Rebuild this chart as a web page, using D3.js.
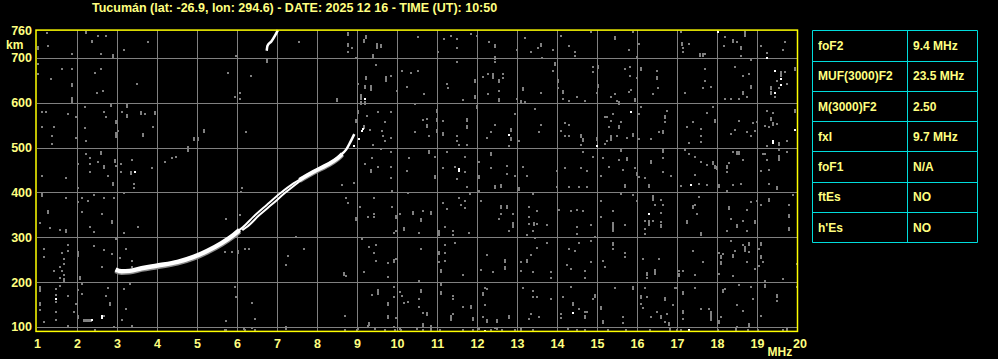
<!DOCTYPE html>
<html><head><meta charset="utf-8">
<script src="https://cdn.jsdelivr.net/npm/d3@7"></script>
<style>
html,body{margin:0;padding:0;background:#000;}
svg{display:block;}
text{font-family:"Liberation Sans",Arial,sans-serif;font-weight:bold;fill:#ffff80;}
</style></head>
<body>
<svg id="chart" width="998" height="359"></svg>
<script>
// ---------------- DATA ----------------
const titleText = "Tucumán (lat: -26.9, lon: 294.6) - DATE: 2025 12 16 - TIME (UT): 10:50";
const freqTicks = d3.range(1, 21);
const heightTicks = [100, 200, 300, 400, 500, 600, 700, 760];
const gridFreqs = d3.range(2, 20);
const gridHeights = [100, 200, 300, 400, 500, 600, 700];
const paramNames = ["foF2", "MUF(3000)F2", "M(3000)F2", "fxI", "foF1", "ftEs", "h'Es"];
const paramValues = ["9.4 MHz", "23.5 MHz", "2.50", "9.7 MHz", "N/A", "NO", "NO"];

// F-layer trace [MHz, km]
const traceLow = [[2.95,228],[3.1,224],[3.3,225],[3.6,231],[4.0,237],[4.5,245],[4.9,256],[5.25,270],[5.6,287],[5.9,305],[6.05,316]];
const traceBranchA = [[6.0,313],[6.13,322],[6.40,346],[6.73,372],[7.07,398],[7.40,420],[7.6,431]];
const traceBranchB = [[6.12,316],[6.25,324],[6.54,349],[6.87,374],[7.19,399],[7.50,421],[7.65,432]];
const traceHigh = [[7.55,428],[7.9,446],[8.23,461],[8.5,476],[8.62,486]];
const traceTip = [[8.6,485],[8.72,496],[8.82,512],[8.92,530]];
const traceSecondHop = [[6.73,716],[6.75,727],[6.85,737],[6.94,750],[7.01,762]];

// background echoes [MHz, km, extent km]
const noiseEchoes = [
[1.03,723,9],[1.26,756],[1.28,727],[1.88,710],[2.22,756,6],[2.38,738,6],[2.53,749],[2.73,749],[2.59,708],[2.90,704,9],[3.18,718],[3.78,736],[1.03,686],[1.03,665],[1.34,654],[1.63,676],[1.88,676],[1.88,639,9],[1.88,606,13],[2.44,667],[2.59,676],[2.49,623],[2.64,627],[3.49,641],[5.78,667],[5.98,705],[6.34,659],[5.95,614],[6.08,622],[6.08,609],[6.74,693,9],[7.55,736],[8.49,607,9],[8.78,754,9],[8.78,729,9],[8.88,723],[8.78,714],[8.98,701],[9.23,747,9],[9.18,738,9],[9.51,727,13],[9.59,727,9],[9.40,705,9],[9.48,685],[9.23,656,9],[9.73,654,13],[9.84,659],[9.03,641],[9.20,634,9],[9.34,632,13],[9.99,627],[9.09,614,13],[9.09,599,9],[9.19,599,9],[10.13,671],[10.24,636],[10.34,666],[10.45,597],[1.13,579],[1.23,579],[1.78,574],[1.98,569],[2.20,591],[2.68,579],[2.73,569],[2.84,594,9],[3.13,579],[3.24,593,9],[3.24,571,9],[3.59,577,9],[3.69,574],[3.94,577,9],[1.13,547],[1.43,547],[1.38,525],[1.38,509],[1.98,521],[2.20,543],[2.23,516],[2.98,557,9],[2.98,529,13],[3.03,538],[3.64,527,9],[3.89,547],[4.93,519,9],[5.03,519,9],[5.18,537,9],[6.23,534],[4.78,497,13],[4.48,480],[4.38,477],[4.19,468],[2.23,485],[2.33,476],[2.59,488,9],[2.03,463],[2.33,463],[2.53,468],[2.68,457,9],[2.94,470,9],[2.98,459],[3.09,464],[3.38,472],[3.88,455],[1.13,437],[1.73,432],[2.33,445],[2.78,437],[3.09,446],[3.34,443,9],[9.03,579,9],[8.98,560,9],[9.24,570],[9.17,545,9],[9.33,540],[9.53,579],[9.69,557],[9.84,579],[9.63,538],[9.65,525],[9.84,521],[9.69,516],[9.40,507],[9.59,497],[9.38,477],[9.20,463],[9.53,458],[9.34,448,9],[9.84,490],[9.84,458],[9.84,432],[10.24,449],[10.30,477],[10.45,534],
[10.53,747],[10.53,671],[10.68,619],[11.03,713],[11.18,742],[11.34,750],[11.49,742],[11.49,723],[11.84,754],[11.99,750],[11.49,690],[11.24,642],[11.28,632],[11.64,606],[11.95,649,9],[11.95,612,9],[11.99,590,9],[12.29,736],[12.44,727,9],[12.44,699,9],[12.44,690],[12.14,658],[12.28,664],[12.39,659,13],[12.54,648,9],[12.64,664],[12.64,656],[12.54,627],[12.54,605,9],[12.28,619],[12.99,718],[13.20,745],[13.35,713],[13.53,723],[13.59,729,9],[13.62,701],[13.89,718],[13.14,631,9],[12.99,609],[13.09,601,9],[13.20,601],[13.59,623],[13.94,686,9],[13.89,671],[14.09,750],[14.29,727],[14.44,713],[14.44,705],[14.84,758],[14.03,649,9],[14.03,634],[14.14,625,9],[14.16,608],[14.29,605],[14.49,614],[14.69,605],[14.89,681],[14.89,668],[15.03,679,9],[15.03,638,9],[14.99,623],[15.44,745,9],[15.79,718],[15.89,758],[16.04,732],[15.99,702],[15.34,614],[15.44,619],[15.49,605],[15.54,599,9],[15.69,676],[15.83,680],[15.83,659],[15.79,624],[15.84,628],[15.94,606,9],[15.99,656],[16.09,675,9],[16.49,671],[16.49,656,9],[16.53,633],[16.39,619],[17.09,758],[17.12,732,9],[17.16,723],[17.29,732],[17.16,714],[17.58,707,9],[17.64,707,9],[17.69,708],[17.69,676],[17.69,649],[17.64,633],[17.84,636],[17.19,623],[18.20,747],[18.39,738,9],[18.49,736],[18.59,723,9],[18.59,705],[18.18,727],[18.69,754,13],[18.44,680],[18.64,659],[18.79,664],[18.84,634,9],[18.64,621,9],[18.74,614],[18.54,608],[18.34,608],[18.19,608],[19.24,712],[19.09,727],[19.69,736],[19.64,718],[18.84,695],[19.59,664,13],[19.69,668],[19.49,649],[19.34,633,9],[19.44,612],[19.34,621,9],[19.54,633],[19.74,642],[19.94,675,9],
[10.66,562],[10.74,565],[10.74,549,9],[10.99,582,9],[10.99,562,9],[11.14,560],[11.14,531,9],[10.99,538,9],[10.79,525],[11.49,525],[11.49,516],[11.54,507],[11.74,562,9],[11.74,546,9],[11.74,505],[12.24,521],[12.34,534],[12.44,551],[12.84,540,9],[12.84,520,9],[12.79,503],[12.94,574],[13.04,516],[13.54,534],[13.59,551],[13.44,587],[14.09,538],[14.19,556],[14.29,551],[14.19,525],[14.29,525],[14.59,525,9],[14.64,516,9],[14.59,505],[14.99,520,9],[15.19,569],[15.24,569],[15.39,575],[15.34,559],[15.29,546],[15.54,546,9],[15.49,527],[15.34,522,13],[15.19,509],[15.24,516],[15.59,557],[15.89,527,9],[15.74,522],[16.04,520],[16.09,591],[16.04,574],[16.34,520],[16.54,534],[16.64,534,9],[16.69,569,9],[16.69,557],[16.74,582],[17.39,557],[17.59,542],[17.59,525],[17.59,512],[17.24,546],[17.29,510],[17.94,560,9],[17.89,590],[17.74,577],[18.34,531],[18.44,540],[18.54,560],[18.74,534],[18.84,525],[18.89,554],[18.99,557],[18.94,538],[19.24,582],[19.39,577],[19.34,564,9],[19.39,553,9],[19.19,549],[19.29,546],[19.49,553],[19.94,582,9],[19.54,509,9],[19.24,503],[19.74,516],
[10.81,490,9],[10.94,480],[11.24,490],[11.14,455],[10.94,435,9],[11.44,458],[11.69,480],[11.69,446],[11.49,431],[12.04,468],[12.04,435,9],[12.34,486,9],[12.34,455],[12.74,460],[12.74,442],[12.94,436],[13.14,458],[13.24,436],[13.99,449],[14.19,455],[14.59,455],[14.64,490],[14.74,449],[14.89,480],[15.14,477],[15.09,436],[15.29,458],[15.59,494,9],[15.54,472],[15.74,475,9],[15.64,451],[15.94,455],[15.99,442,9],[16.04,435],[16.19,433],[16.34,468,9],[16.64,492,9],[16.64,477],[16.64,446],[16.84,436],[17.19,494],[17.29,485],[17.44,480],[17.44,440],[17.59,468],[17.74,462],[17.89,466,9],[17.94,457,9],[17.99,455,9],[18.24,457,9],[18.29,466],[18.24,446],[18.39,490],[18.49,488,9],[18.54,488,9],[18.64,472],[19.14,486],[19.19,486],[19.24,472],[19.09,449],[19.29,451],[19.54,477,13],[19.54,495],[19.74,490],
[1.13,394,9],[2.03,409],[2.90,419,9],[3.43,419],[3.43,409],[3.18,398],[1.73,387],[2.13,387],[2.28,382],[2.43,395],[2.68,387],[2.93,387],[2.03,378],[2.13,357],[2.63,351],[2.88,335,9],[1.28,357,9],[1.08,333],[1.33,320],[1.58,316],[1.73,314,9],[2.33,324],[2.43,311],[3.18,310],[3.53,324],[1.18,275],[1.18,256],[1.63,266],[1.78,284],[1.78,270],[2.03,262,13],[1.68,251],[1.68,240],[1.58,234],[1.63,225],[1.43,224],[1.68,216],[1.58,210],[1.68,205,9],[2.08,210,9],[2.43,280],[2.68,271],[2.63,234],[2.88,262],[2.98,296],[3.23,274],[1.08,185,13],[1.08,151,9],[1.08,137],[1.18,111],[1.48,185],[1.58,192],[1.48,172],[1.48,155],[1.48,133],[1.48,116],[1.78,170],[2.03,182],[1.98,151],[1.93,133],[2.13,196],[2.13,174],[2.03,122,9],[1.78,103],[2.78,187],[2.83,151,9],[2.73,170],[2.68,125],[3.18,185],[3.23,140],[3.13,116],[3.33,196],[3.38,103],[2.93,100],[3.08,255],[3.38,247],[3.38,234],[5.72,340],[6.08,350],[6.13,410],[6.10,401],[5.70,268],[5.88,268],[6.03,268,9],[6.20,273],[6.30,273],[5.95,190],[5.98,168],[6.38,153],[6.45,117],[5.73,113],[5.70,94],[6.18,96],[6.38,98],[7.48,301],[7.68,273],[7.28,259],[7.23,239],[7.23,100],[8.63,416],[8.93,421],[8.73,387],[8.78,377],[9.08,367],[8.98,340,9],[9.28,345],[9.43,353],[9.43,345],[9.88,367],[9.43,387],[9.88,403],[9.98,344,9],[9.93,310],[9.98,314],[10.18,318,9],[10.28,399],[10.40,355,9],[10.08,351],[9.13,296],[9.30,279],[9.48,283],[9.43,266],[9.48,247],[9.78,242],[9.93,246,9],[9.98,251],[9.78,212],[9.18,222],[8.68,219,9],[8.73,214],[9.53,177,13],[9.38,172],[9.78,151,9],[10.08,177],[10.13,170],[10.28,155],[10.18,153],[9.93,190],[9.93,166],[9.78,122,9],[9.98,120],[8.70,125],[9.30,107,9],[9.03,96],[10.08,96],[9.45,96],[9.93,100],
[10.64,358],[10.84,353,9],[10.61,338,9],[10.54,310],[11.04,310,13],[11.19,323],[11.14,377],[11.24,364],[11.39,314],[11.39,305],[11.54,387],[11.59,373],[11.69,382],[11.69,366],[11.79,310],[11.83,397],[12.09,382],[12.46,414],[12.59,414,9],[12.44,409],[11.74,412],[12.04,403],[12.59,367,9],[12.74,367,9],[12.59,351],[12.89,351],[12.89,327,13],[12.54,342],[12.79,314],[13.04,407,9],[13.39,397],[13.29,367],[13.29,345],[13.29,329],[13.43,329,9],[13.49,358],[13.49,330],[13.74,327],[13.39,314],[13.24,305],[13.44,298],[14.34,358],[14.49,362],[14.64,358],[14.49,323],[14.84,327],[14.49,307],[14.94,301],[14.06,362],[13.99,412],[14.31,412],[14.54,412],[14.74,412],[15.09,381],[15.09,345],[15.39,358],[15.39,323,22],[15.69,327],[15.59,397],[15.69,415,9],[15.89,394],[15.99,381],[16.29,414,9],[16.39,387,13],[16.44,372],[16.59,384],[16.64,372],[16.19,336],[16.29,333,13],[16.39,336],[16.59,355],[16.59,335],[16.59,325,9],[16.19,318],[16.19,307],[17.09,414],[17.54,418],[17.74,416],[18.04,414,9],[18.24,404],[18.39,416],[18.59,419],[19.29,419],[19.49,410,9],[19.29,384,9],[18.99,381],[19.09,372],[17.54,389],[17.39,367,9],[17.44,372],[17.49,351],[17.24,335,9],[17.59,308,9],[18.29,366,9],[18.34,342],[18.24,314],[18.49,325,9],[18.64,336],[18.74,360],[18.74,314],[18.94,335,9],[18.84,379],[19.79,347,9],[19.79,318,9],[19.89,394],[19.79,372],
[10.59,273],[11.04,264,9],[11.19,284],[11.19,266],[11.04,244],[11.19,247],[11.09,224,9],[11.44,288],[11.64,216],[12.09,227],[12.24,261],[12.39,222],[12.69,247,9],[12.69,231,9],[10.54,203],[13.09,244],[13.09,225],[13.24,246,9],[13.34,261],[13.39,222],[13.49,276],[13.74,288],[13.84,222],[13.84,209],[14.29,273],[14.44,270],[14.54,288],[14.24,239],[14.34,229],[14.69,225],[14.69,209],[14.84,292],[14.84,244],[15.14,247],[15.19,234],[15.39,286,9],[15.39,274],[15.69,266],[15.69,256],[16.14,251],[16.54,251],[16.24,218,9],[16.44,222,13],[16.24,209],[17.04,225],[17.04,216,9],[17.14,225],[17.39,270],[17.44,216],[17.64,244],[18.04,266],[18.09,255,9],[18.14,262],[18.09,242,9],[18.39,259,9],[18.44,270],[18.34,292],[18.64,284],[18.69,273,13],[18.74,244],[18.79,268],[18.79,286,9],[18.94,229],[19.04,236],[19.04,273],[19.09,286,9],[19.09,255,9],[19.14,244],[19.64,207],[19.99,240],[18.39,214],[18.04,218],
[10.59,181,9],[10.54,162],[10.54,144],[10.64,131],[10.74,128,9],[10.64,105,9],[10.84,100,9],[11.09,196,9],[11.09,175,9],[11.39,170],[11.39,162],[11.64,144],[11.34,120,13],[11.39,129],[11.84,144,9],[11.89,118,9],[12.04,96],[12.14,174,9],[12.19,188],[12.24,185],[12.19,148],[12.14,122],[12.24,114,9],[12.49,114,9],[12.44,98],[12.79,123,9],[13.14,187],[13.39,181],[13.39,168],[13.49,168],[13.34,129],[13.29,118],[13.54,122],[13.84,162],[14.14,168],[14.34,190],[14.39,150,9],[14.54,140],[14.09,129],[14.09,120],[14.69,133],[14.69,122,9],[14.74,133],[14.94,170,9],[14.89,162],[15.09,142,9],[15.14,111,9],[15.44,188],[15.64,122],[15.64,108],[15.89,187,9],[16.09,166,9],[16.09,151],[16.14,142],[16.24,168],[16.19,187],[16.34,122],[16.49,134],[16.59,122,9],[16.69,162,9],[16.69,111],[16.74,128],[16.79,107,9],[16.89,150],[16.94,187],[16.99,187],[17.14,175,9],[17.14,133,9],[17.14,118],[17.44,187],[17.59,140],[17.79,140],[17.84,125,22],[18.09,122],[18.04,111,9],[18.14,179,9],[18.19,185],[18.49,148],[18.54,194],[18.64,135],[18.79,105,9],[18.49,101],[18.84,190],[18.89,162],[19.09,125],[19.19,192,9],[19.19,203],[19.49,170,9],[19.49,157],[19.99,190],
[2.44,93],[5.72,93],[6.19,94],[6.44,93],[7.23,95],[8.69,93],[9.0,94],[9.27,103],[9.69,94],[9.94,93],[10.11,94],[10.49,95],[10.64,93],[10.86,95,9],[11.07,94],[11.65,94],[11.9,93],[12.36,94],[12.49,96],[12.63,93],[12.94,93],[13.09,94,9],[13.39,93],[14.28,95],[14.50,93],[14.69,93],[15.28,93],[15.73,93],[16.32,93],[16.82,94,9],[16.99,94],[17.11,94],[18.02,93],[18.48,94,9],[18.78,93],[19.02,94],[19.64,93],[19.74,94,9]
];
const brightEchoes = [[9.19,609],[3.44,445],[9.13,538],[18.03,758],[19.24,701],[19.44,671],[19.59,654],[19.59,640],[19.44,623],[12.79,529],[14.99,503],[15.84,580],[19.94,540],[19.39,512,9],[11.54,449,9],[16.29,351],[17.34,416],[14.39,131],[17.29,94],[12.19,91],[2.63,121,9],[2.38,116],[1.47,162],[9.16,541],[9.05,519],[8.92,503]];
const smearEchoes = [[2.14, 2.37, 116]]; // [fStart, fEnd, km]

// ---------------- DRAW ----------------
const svg = d3.select("#chart");
svg.append("rect").attr("width", 998).attr("height", 359).attr("fill", "#000");

const x = d3.scaleLinear().domain([1, 20]).range([37, 797]);
const y = d3.scaleLinear().domain([90, 762]).range([331.4, 30.1]);
const kmPx = Math.abs(y(100) - y(0));

// title
svg.append("text").attr("x", 92).attr("y", 11.5).attr("font-size", 12.5)
  .text(titleText);

// grid
const grid = svg.append("g").attr("stroke", "#808080").attr("stroke-width", 1);
grid.selectAll("line.v").data(gridFreqs).join("line").attr("class", "v")
  .attr("x1", d => Math.round(x(d)) + 0.5).attr("x2", d => Math.round(x(d)) + 0.5)
  .attr("y1", y(762)).attr("y2", y(90));
grid.selectAll("line.h").data(gridHeights).join("line").attr("class", "h")
  .attr("y1", d => Math.round(y(d)) + 0.5).attr("y2", d => Math.round(y(d)) + 0.5)
  .attr("x1", x(1)).attr("x2", x(20));

// echoes
function drawEchoes(data, color) {
  svg.append("g").attr("fill", color).selectAll("rect").data(data).join("rect")
    .attr("x", d => Math.round(x(d[0])) - 1)
    .attr("y", d => Math.round(y(d[1] + (d[2] || 4) / 2)))
    .attr("width", 2)
    .attr("height", d => Math.max(2, Math.round((d[2] || 4) * kmPx / 100)));
}
drawEchoes(noiseEchoes, "#808080");
svg.append("g").attr("fill", "#808080").selectAll("rect").data(smearEchoes).join("rect")
  .attr("x", d => Math.round(x(d[0]))).attr("width", d => Math.round(x(d[1]) - x(d[0])))
  .attr("y", d => Math.round(y(d[2])) - 1).attr("height", 3);
drawEchoes(brightEchoes, "#ffffff");

// traces
const line = d3.line().x(d => x(d[0])).y(d => y(d[1])).curve(d3.curveMonotoneX);
function trace(data, w, color, dy) {
  svg.append("path").datum(data).attr("d", line).attr("fill", "none")
    .attr("transform", `translate(0.5,${dy || 0})`)
    .attr("stroke", color || "#fff").attr("stroke-width", w).attr("stroke-linecap", "butt");
}
trace(traceLow, 5, "#8c8c8c", 1.2);
trace(traceHigh, 4.5, "#8c8c8c", 1);
trace(traceLow, 4.5);
trace(traceBranchA, 2);
trace(traceBranchB, 2);
trace(traceHigh, 4);
trace(traceTip, 2.5);
trace(traceSecondHop, 2.5);

// frame
svg.append("rect").attr("x", x(1) - 1).attr("y", y(762)).attr("width", x(20) - x(1) + 1.5)
  .attr("height", y(90) - y(762)).attr("fill", "none").attr("stroke", "#ffff00").attr("stroke-width", 1.5);

// axes labels
const xAxis = d3.axisBottom(x).tickValues(freqTicks).tickSize(0).tickPadding(8).tickFormat(d3.format("d"));
const gx = svg.append("g").attr("transform", `translate(0,${y(90)})`).call(xAxis);
gx.select(".domain").remove();
gx.selectAll("text").attr("font-size", 12.5).attr("font-family", null).attr("fill", "#ffff80")
  .attr("dx", d => d === 20 ? 2.5 : 0);

const yAxis = d3.axisLeft(y).tickValues(heightTicks).tickSize(0).tickPadding(4).tickFormat(d3.format("d"));
const gy = svg.append("g").attr("transform", `translate(${x(1) - 1},0)`).call(yAxis);
gy.select(".domain").remove();
gy.selectAll("text").attr("font-size", 12.5).attr("font-family", null).attr("fill", "#ffff80")
  .attr("dy", d => d === 760 ? "0.26em" : "0.32em");

svg.append("text").attr("x", 6).attr("y", 48.5).attr("font-size", 12).text("km");
svg.append("text").attr("x", 767.5).attr("y", 356).attr("font-size", 12).text("MHz");

// parameter table
const rowScale = d3.scaleBand().domain(paramNames).range([30.3, 242.3]);
const tbl = svg.append("g");
const colX = [812.5, 907.5, 977.5];
tbl.selectAll("line.r").data([...paramNames, null]).join("line").attr("class", "r")
  .attr("x1", colX[0]).attr("x2", colX[2])
  .attr("y1", (d, i) => Math.round(30.3 + i * rowScale.step()) + 0.5)
  .attr("y2", (d, i) => Math.round(30.3 + i * rowScale.step()) + 0.5)
  .attr("stroke", "#00dcdc");
tbl.selectAll("line.c").data(colX).join("line").attr("class", "c")
  .attr("x1", d => d).attr("x2", d => d).attr("y1", 30.5).attr("y2", 242.5)
  .attr("stroke", "#00dcdc");
tbl.selectAll("text.n").data(paramNames).join("text").attr("class", "n")
  .attr("x", 818).attr("y", d => rowScale(d) + rowScale.bandwidth() / 2 + 4.5)
  .attr("font-size", 12).text(d => d);
tbl.selectAll("text.v").data(paramValues).join("text").attr("class", "v")
  .attr("x", 913).attr("y", (d, i) => rowScale(paramNames[i]) + rowScale.bandwidth() / 2 + 4.5)
  .attr("font-size", 12).text(d => d);
</script>
</body></html>
